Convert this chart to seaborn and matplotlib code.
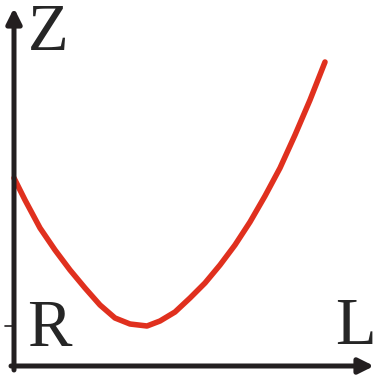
import numpy as np
import pandas as pd
import seaborn as sns
from matplotlib import pyplot as plt
from matplotlib import font_manager

# curve (origin at the axes corner, pixel-like units)
lengths = [0, 11, 26, 41, 56, 71, 86, 101, 116, 133, 146, 161, 176, 191,
           206, 221, 236, 251, 266, 281, 296, 311]
heights = [188, 166, 138, 116, 96, 78, 61, 48, 42, 40, 45, 54, 68, 83,
           101, 121, 144, 170, 198, 231, 266, 304]
r_level = 40
axis_labels = ["L", "Z", "R"]

sns.set_style("white")
serif = font_manager.FontProperties(fname=font_manager.findfont("Liberation Serif"), size=48)

fig = plt.figure(figsize=(3.76, 3.78), dpi=100)
ax = fig.add_axes([0, 0, 1, 1])
ax.set_xlim(-14, 362)
ax.set_ylim(-12, 366)
ax.axis("off")

df = pd.DataFrame({"L": lengths, "Z": heights})
sns.lineplot(data=df, x="L", y="Z", ax=ax, color="#e0301e", linewidth=4,
             sort=False, estimator=None)

# axes with arrow heads
arrow = dict(arrowstyle="-|>,head_length=0.9,head_width=0.45", color="#231f20",
             lw=3.6, shrinkA=0, shrinkB=0)
ax.annotate("", xy=(0, 358), xytext=(0, -4), arrowprops=arrow)
ax.annotate("", xy=(360, 0), xytext=(-3, 0), arrowprops=arrow)

# small tick at R
ax.plot([-9, 0], [r_level, r_level], color="#231f20", lw=1.2)

ax.text(34, 332, axis_labels[1], fontproperties=serif, ha="center", va="center")
ax.text(341, 38, axis_labels[0], fontproperties=serif, ha="center", va="center")
ax.text(35, r_level - 3, axis_labels[2], fontproperties=serif, ha="center", va="center")

fig.savefig("out.png", dpi=100)
